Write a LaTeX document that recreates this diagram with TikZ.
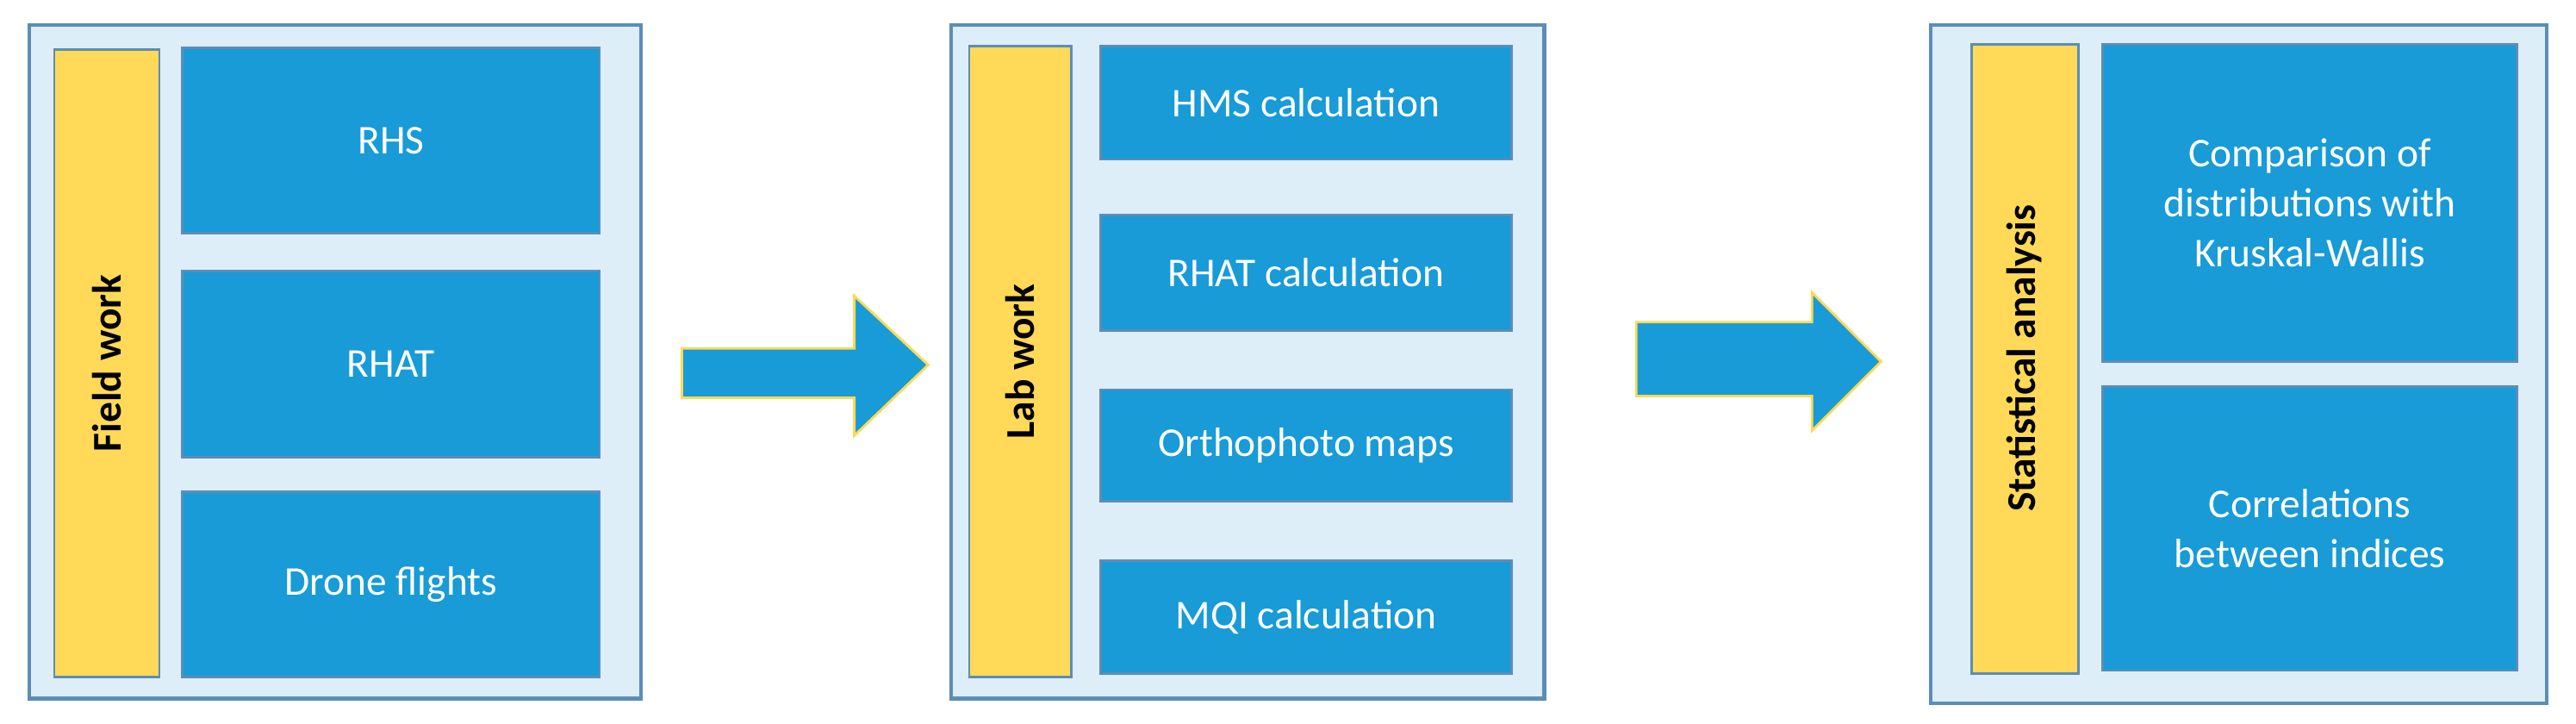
\documentclass[tikz,border=0pt]{standalone}
\usepackage{fontspec}
\setmainfont{Carlito}
\definecolor{bgb}{HTML}{DDEEF9}
\definecolor{edge}{HTML}{5B8DB8}
\definecolor{blu}{HTML}{189BD7}
\definecolor{yel}{HTML}{FFD957}
\begin{document}
\begin{tikzpicture}[x=0.01907cm,y=-0.01907cm,
  outer/.style={draw=edge,line width=1.2pt,fill=bgb},
  bar/.style={draw=edge,line width=0.8pt,fill=yel},
  item/.style={draw=edge,line width=0.8pt,fill=blu,text=white,font=\fontsize{13.5}{16.5}\selectfont,align=center},
  arr/.style={draw=yel,line width=0.8pt,fill=blu}]
\useasboundingbox (0,0) rectangle (1568,440);
% box 1
\draw[outer] (18,15) rectangle (390,425);
\draw[bar] (33,30) rectangle (97,412);
\node[rotate=90,font=\fontsize{13.5}{16}\selectfont\bfseries] (l1) at (65,221) {Field work};
\draw[item] (111,29) rectangle (365,142) node[midway] (a1) {RHS};
\draw[item] (111,165) rectangle (365,278) node[midway] (a2) {RHAT};
\draw[item] (111,299) rectangle (365,412) node[midway] (a3) {Drone flights};
% arrow 1
\draw[arr] (415,212) -- (520,212) -- (520,180) -- (565,222) -- (520,265) -- (520,242) -- (415,242) -- cycle;
% box 2
\draw[outer] (579,15) rectangle (940,425);
\draw[bar] (590,28) rectangle (652,412);
\node[rotate=90,font=\fontsize{13.5}{16}\selectfont\bfseries] (l2) at (621,220) {Lab work};
\draw[item] (670,28) rectangle (920,97) node[midway] (b1) {HMS calculation};
\draw[item] (670,131) rectangle (920,201) node[midway] (b2) {RHAT calculation};
\draw[item] (670,237) rectangle (920,305) node[midway] (b3) {Orthophoto maps};
\draw[item] (670,341) rectangle (920,410) node[midway] (b4) {MQI calculation};
% arrow 2
\draw[arr] (996,196) -- (1103,196) -- (1103,178) -- (1145,220) -- (1103,262) -- (1103,241) -- (996,241) -- cycle;
% box 3
\draw[outer] (1175,15) rectangle (1550,428);
\draw[bar] (1200,27) rectangle (1265,410);
\node[rotate=90,font=\fontsize{13.5}{16}\selectfont\bfseries] (l3) at (1232,218) {Statistical analysis};
\draw[item] (1280,27) rectangle (1532,220) node[midway] (c1) {Comparison of\\distributions with\\Kruskal-Wallis};
\draw[item] (1280,235) rectangle (1532,408) node[midway] (c2) {Correlations\\between indices};
\end{tikzpicture}
\end{document}
